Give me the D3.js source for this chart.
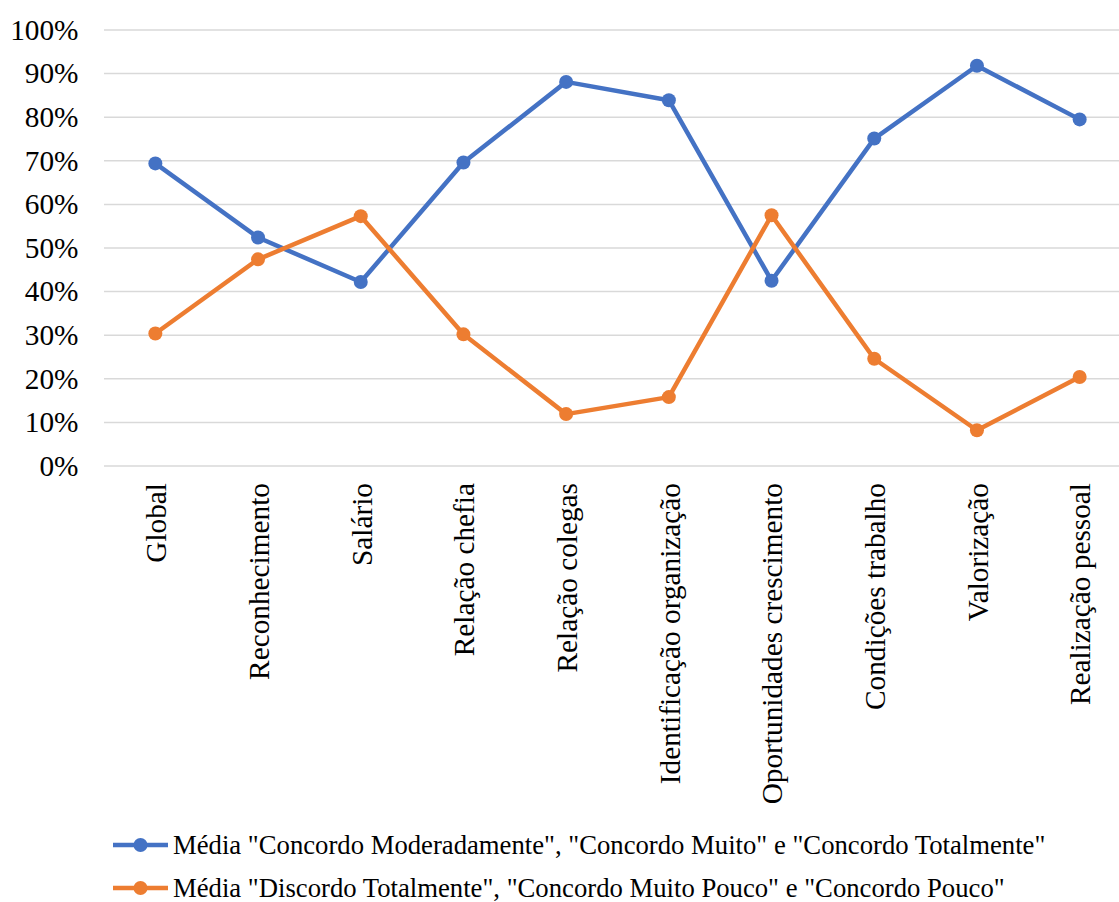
<!DOCTYPE html>
<html>
<head>
<meta charset="utf-8">
<script src="https://cdn.jsdelivr.net/npm/d3@7"></script>
<style>
  html, body { margin: 0; padding: 0; background: #fff; }
</style>
</head>
<body>
<svg id="chart" width="1119" height="902"></svg>
<script>
const categories = [
  "Global", "Reconhecimento", "Salário", "Relação chefia", "Relação colegas",
  "Identificação organização", "Oportunidades crescimento", "Condições trabalho",
  "Valorização", "Realização pessoal"
];
const concordo = [69.4, 52.4, 42.2, 69.6, 88.1, 83.9, 42.5, 75.1, 91.8, 79.5];
const discordo = [30.4, 47.4, 57.3, 30.2, 11.9, 15.8, 57.5, 24.6, 8.2, 20.4];
const yTicks = [0, 10, 20, 30, 40, 50, 60, 70, 80, 90, 100];
const seriesNames = [
  "Média \"Concordo Moderadamente\", \"Concordo Muito\" e \"Concordo Totalmente\"",
  "Média \"Discordo Totalmente\", \"Concordo Muito Pouco\" e \"Concordo Pouco\""
];
const seriesColors = ["#4472C4", "#ED7D31"];
const FONT = "'Liberation Serif', serif";

const svg = d3.select("#chart");
const plot = { left: 104, right: 1131, top: 30, bottom: 466 };

const x = d3.scalePoint().domain(categories).range([plot.left, plot.right]).padding(0.5);
const y = d3.scaleLinear().domain([0, 100]).range([plot.bottom, plot.top]);

// horizontal gridlines
svg.append("g").selectAll("line").data(yTicks).join("line")
  .attr("x1", plot.left).attr("x2", plot.right)
  .attr("y1", d => y(d)).attr("y2", d => y(d))
  .attr("stroke", "#D9D9D9").attr("stroke-width", 1.5);

// y axis labels
const yAxis = svg.append("g").attr("transform", `translate(${plot.left - 25.5},0)`)
  .call(d3.axisLeft(y).tickValues(yTicks).tickFormat(d => d + "%").tickSize(0).tickPadding(0));
yAxis.select(".domain").remove();
yAxis.selectAll("text")
  .style("font-family", FONT).style("font-size", "29.3px").style("fill", "#000");

// category labels, rotated
const xAxis = svg.append("g").attr("transform", `translate(0,${plot.bottom + 17})`)
  .call(d3.axisBottom(x).tickSize(0).tickPadding(0));
xAxis.select(".domain").remove();
xAxis.selectAll("text")
  .style("font-family", FONT).style("font-size", "29.3px").style("fill", "#000")
  .attr("transform", "rotate(-90)")
  .attr("text-anchor", "end")
  .attr("x", 0).attr("y", 0).attr("dy", "0.35em");

const line = d3.line().x((d, i) => x(categories[i])).y(d => y(d));
[concordo, discordo].forEach((vals, s) => {
  const g = svg.append("g");
  g.append("path").datum(vals).attr("d", line)
    .attr("fill", "none").attr("stroke", seriesColors[s])
    .attr("stroke-width", 4.5).attr("stroke-linejoin", "round");
  g.selectAll("circle").data(vals).join("circle")
    .attr("cx", (d, i) => x(categories[i])).attr("cy", d => y(d))
    .attr("r", 7).attr("fill", seriesColors[s]);
});

// legend
const legend = svg.append("g");
seriesNames.forEach((name, s) => {
  const ly = 845 + s * 43;
  legend.append("line").attr("x1", 113).attr("x2", 168).attr("y1", ly).attr("y2", ly)
    .attr("stroke", seriesColors[s]).attr("stroke-width", 4.5);
  legend.append("circle").attr("cx", 140.5).attr("cy", ly).attr("r", 7).attr("fill", seriesColors[s]);
  legend.append("text").attr("x", 173).attr("y", ly).attr("dy", "0.35em")
    .style("font-family", FONT).style("font-size", "26.7px").style("fill", "#000")
    .text(name);
});
</script>
</body>
</html>
